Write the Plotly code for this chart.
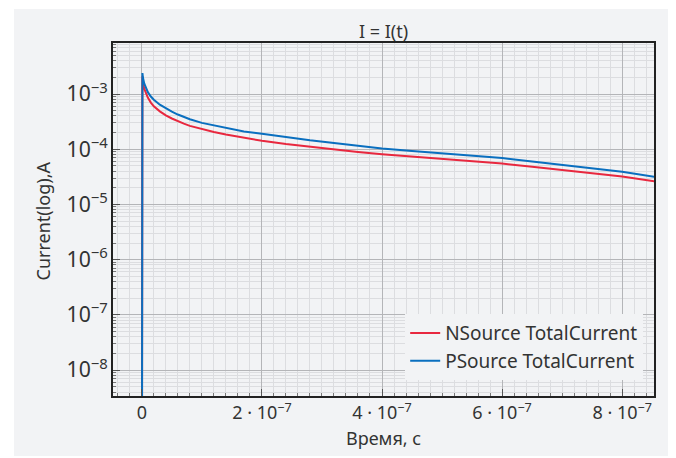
import plotly.graph_objects as go

# Time, s
time_s = [0, 1e-9, 2e-9, 4e-9, 7e-9, 1e-8, 1.5e-8, 2e-8, 3e-8, 4e-8, 5e-8, 6e-8, 7e-8,
          8e-8, 1e-7, 1.2e-7, 1.4e-7, 1.7e-7, 2e-7, 2.4e-7, 2.8e-7, 3.2e-7, 3.6e-7,
          4e-7, 4.5e-7, 5e-7, 5.5e-7, 6e-7, 6.5e-7, 7e-7, 7.5e-7, 8e-7, 8.6e-7]
# Currents, A
nsource_current = [1e-12, 2.1e-3, 1.6e-3, 1.25e-3, 1.0e-3, 8.6e-4, 7.0e-4, 6.0e-4, 4.85e-4,
                   4.1e-4, 3.6e-4, 3.2e-4, 2.9e-4, 2.65e-4, 2.3e-4, 2.05e-4, 1.85e-4,
                   1.6e-4, 1.42e-4, 1.24e-4, 1.1e-4, 9.8e-5, 8.9e-5, 8.1e-5, 7.3e-5,
                   6.6e-5, 6.0e-5, 5.5e-5, 4.8e-5, 4.2e-5, 3.7e-5, 3.2e-5, 2.55e-5]
psource_current = [1e-12, 2.4e-3, 1.95e-3, 1.55e-3, 1.25e-3, 1.08e-3, 9.0e-4, 7.9e-4, 6.4e-4,
                   5.5e-4, 4.8e-4, 4.25e-4, 3.85e-4, 3.5e-4, 3.0e-4, 2.7e-4, 2.45e-4,
                   2.1e-4, 1.9e-4, 1.65e-4, 1.45e-4, 1.3e-4, 1.15e-4, 1.03e-4, 9.3e-5,
                   8.4e-5, 7.6e-5, 6.9e-5, 6.0e-5, 5.2e-5, 4.5e-5, 3.9e-5, 3.1e-5]

x_tick_vals = [0, 2e-7, 4e-7, 6e-7, 8e-7]
x_tick_text = ["0", "2 · 10<sup>−7</sup>", "4 · 10<sup>−7</sup>",
               "6 · 10<sup>−7</sup>", "8 · 10<sup>−7</sup>"]

BG = "#f2f3f5"
TXT = "#333333"
FONT = "Noto Sans"
FS = 17

# page has an 8px body margin; figure coords = page coords - 8
W, H = 668, 450
ml, mr, mt, mb = 105, 22, 35, 62
pw, ph = W - ml - mr, H - mt - mb


def f(size=FS):
    return dict(family=FONT, size=size, color=TXT)


def px(xf):
    return (xf - ml) / pw


def py(yf):
    return (H - mb - yf) / ph


fig = go.Figure()
fig.add_trace(go.Scatter(x=time_s, y=nsource_current, mode="lines",
                         name="NSource TotalCurrent",
                         line=dict(color="#e8283f", width=2)))
fig.add_trace(go.Scatter(x=time_s, y=psource_current, mode="lines",
                         name="PSource TotalCurrent",
                         line=dict(color="#0a6fbf", width=2)))

# grey card behind the chart
fig.add_shape(type="rect", xref="paper", yref="paper", layer="below",
              x0=px(6), x1=px(663), y0=py(448), y1=py(1),
              fillcolor=BG, line=dict(width=0))

# titles placed as annotations (figure coords = page - 8)
fig.add_annotation(text="Current(log),A", textangle=-90, showarrow=False,
                   xref="paper", yref="paper", x=px(34), y=py(213.5),
                   xanchor="center", yanchor="middle", font=f(18))
fig.add_annotation(text="I = I(t)", showarrow=False,
                   xref="paper", yref="paper", x=px(375.5), y=py(23),
                   xanchor="center", yanchor="middle", font=f(18))
fig.add_annotation(text="Время, с", showarrow=False,
                   xref="paper", yref="paper", x=px(375.5), y=py(430),
                   xanchor="center", yanchor="middle", font=f(18))

fig.update_layout(
    width=W, height=H,
    margin=dict(l=ml, r=mr, t=mt, b=mb, autoexpand=False),
    paper_bgcolor="white", plot_bgcolor=BG,
    font=f(),
    showlegend=True,
    legend=dict(x=0.98, y=0.045, xanchor="right", yanchor="bottom",
                bgcolor=BG, borderwidth=0, font=f(19),
                tracegroupgap=0, itemwidth=30),
)

fig.update_xaxes(
    range=[-4.8e-8, 8.53e-7],
    tickmode="array", tickvals=x_tick_vals, ticktext=x_tick_text,
    showgrid=True, gridcolor="#b4b5b8", gridwidth=1,
    zeroline=False,
    showline=True, linecolor="#222222", linewidth=1.5, mirror=True,
    ticks="inside", ticklen=7, tickcolor="#555555",
    minor=dict(tick0=0, dtick=2e-8, showgrid=True, gridcolor="#dcdde0",
               ticks="inside", ticklen=3, tickcolor="#777777"),
    tickfont=f(18),
)
fig.update_yaxes(
    type="log", range=[-8.47, -2.076],
    dtick=1, exponentformat="power",
    showgrid=True, gridcolor="#b4b5b8", gridwidth=1,
    zeroline=False,
    showline=True, linecolor="#222222", linewidth=1.5, mirror=True,
    ticks="inside", ticklen=7, tickcolor="#555555",
    minor=dict(dtick="D1", showgrid=True, gridcolor="#dcdde0",
               ticks="inside", ticklen=3, tickcolor="#777777"),
    tickfont=f(),
)

fig.write_html("out.html")
